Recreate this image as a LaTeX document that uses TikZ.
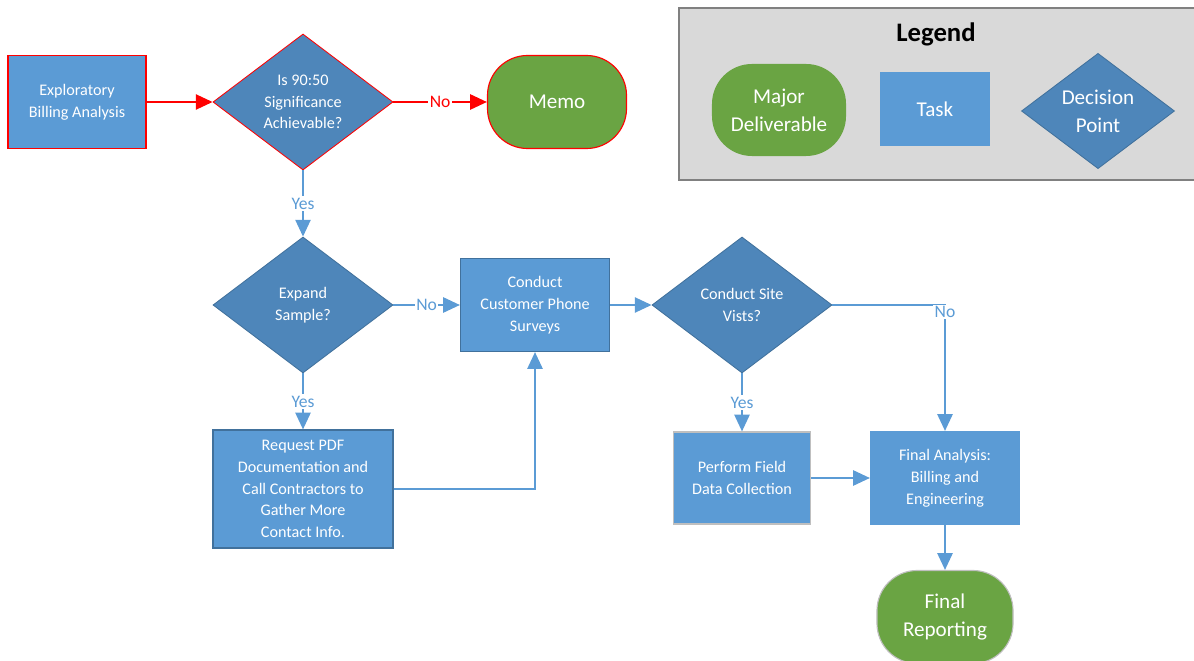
\documentclass[tikz,border=0pt]{standalone}
\usepackage{fontspec}
\setmainfont{Carlito}
\usepackage{tikz}
\definecolor{taskblue}{RGB}{91,155,213}
\definecolor{taskedge}{RGB}{65,113,156}
\definecolor{decblue}{RGB}{78,134,186}
\definecolor{delgreen}{RGB}{106,164,67}
\definecolor{legendgray}{RGB}{217,217,217}
\definecolor{legendedge}{RGB}{128,128,128}
\definecolor{softedge}{RGB}{191,191,191}
\usetikzlibrary{shapes.geometric, arrows.meta, positioning}

\begin{document}
\begin{tikzpicture}[
    x=0.025cm, y=-0.025cm,
    task/.style={rectangle, draw=taskedge, line width=0.8pt, fill=taskblue, text=white, align=center, inner sep=2pt, font=\fontsize{11.5}{15.5}\selectfont},
    decision/.style={diamond, draw=taskedge, line width=0.6pt, fill=decblue, text=white, align=center, inner sep=0pt, minimum width=4.5cm, minimum height=3.4cm, font=\fontsize{11.5}{15.5}\selectfont},
    deliverable/.style={rectangle, rounded corners=1cm, draw=softedge, line width=0.8pt, fill=delgreen, text=white, align=center, font=\fontsize{15}{20}\selectfont},
    flow/.style={-{Triangle[length=0.42cm,width=0.38cm]}, line width=1.4pt, taskblue},
    redflow/.style={flow, red},
    lbl/.style={fill=white, inner sep=1pt, text=taskblue, font=\fontsize{12.5}{14}\selectfont}
]
    \useasboundingbox (0,0) rectangle (1194,661);
    \clip (0,0) rectangle (1194,661);

    % Legend
    \node[draw=legendedge, line width=1.2pt, fill=legendgray, minimum width=13.1cm, minimum height=4.3cm] (legend) at (941,94) {};
    \node[font=\fontsize{19}{22}\selectfont\bfseries] (legendtitle) at (936,34) {Legend};
    \node[deliverable, draw=none, minimum width=3.35cm, minimum height=2.3cm] (keydel) at (779,110) {Major\\Deliverable};
    \node[task, draw=none, minimum width=2.75cm, minimum height=1.85cm, font=\fontsize{15}{20}\selectfont] (keytask) at (935,109) {Task};
    \node[decision, minimum width=3.825cm, minimum height=2.875cm, font=\fontsize{15}{20}\selectfont] (keydec) at (1098,111) {Decision\\Point};

    % Screening step
    \node[task, draw=red, minimum width=3.45cm, minimum height=2.325cm] (explore) at (77,102) {Exploratory\\Billing Analysis};
    \node[decision, draw=red] (signif) at (303,102) {Is 90:50\\Significance\\Achievable?};
    \node[deliverable, draw=red, minimum width=3.475cm, minimum height=2.325cm] (memo) at (557,102) {Memo};

    % Main flow
    \node[decision] (expand) at (303,305) {Expand\\Sample?};
    \node[task, minimum width=3.725cm, minimum height=2.325cm] (phone) at (535,305) {Conduct\\Customer Phone\\Surveys};
    \node[task, minimum width=4.5cm, minimum height=2.95cm] (request) at (303,489) {Request PDF\\Documentation and\\Call Contractors to\\Gather More\\Contact Info.};
    \node[decision] (site) at (742,305) {Conduct Site\\Vists?};
    \node[task, draw=softedge, minimum width=3.425cm, minimum height=2.3cm] (field) at (742,478) {Perform Field\\Data Collection};
    \node[task, draw=none, minimum width=3.725cm, minimum height=2.325cm] (final) at (945,478) {Final Analysis:\\Billing and\\Engineering};
    \node[deliverable, minimum width=3.4cm, minimum height=2.325cm] (report) at (945,617) {Final\\Reporting};

    % Arrows
    \draw[redflow] (explore) -- (signif);
    \draw[redflow] (signif.east) -- node[lbl, text=red] {No} (memo.west);
    \draw[flow] (signif.south) -- node[lbl] {Yes} (expand.north);
    \draw[flow] (expand.east) -- node[lbl] {No} (phone.west);
    \draw[flow] (expand.south) -- node[lbl] {Yes} (request.north);
    \draw[flow] (request.east) -| (phone.south);
    \draw[flow] (phone.east) -- (site.west);
    \draw[flow] (site.east) -| node[lbl, pos=0.5, anchor=north, yshift=1pt] {No} (final.north);
    \draw[flow] (site.south) -- node[lbl] {Yes} (field.north);
    \draw[flow] (field.east) -- (final.west);
    \draw[flow] (final.south) -- (report.north);
\end{tikzpicture}
\end{document}
